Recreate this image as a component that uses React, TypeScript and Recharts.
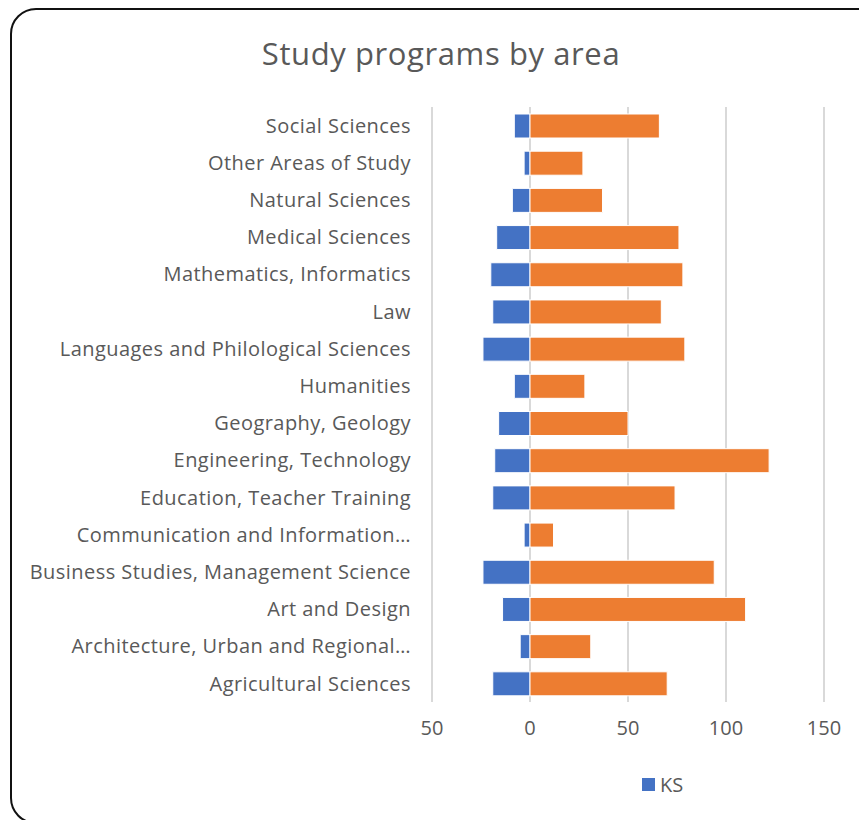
import { Bar, BarChart, CartesianGrid, Legend, XAxis, YAxis } from "recharts"

// Study areas, top to bottom as shown in the chart
const areas = [
  "Social Sciences",
  "Other Areas of Study",
  "Natural Sciences",
  "Medical Sciences",
  "Mathematics, Informatics",
  "Law",
  "Languages and Philological Sciences",
  "Humanities",
  "Geography, Geology",
  "Engineering, Technology",
  "Education, Teacher Training",
  "Communication and Information…",
  "Business Studies, Management Science",
  "Art and Design",
  "Architecture, Urban and Regional…",
  "Agricultural Sciences",
]

// KS is drawn to the left of zero
const ksPrograms = [-8, -3, -9, -17, -20, -19, -24, -8, -16, -18, -19, -3, -24, -14, -5, -19]
const otherPrograms = [66, 27, 37, 76, 78, 67, 79, 28, 50, 122, 74, 12, 94, 110, 31, 70]

const xTicks = [-50, 0, 50, 100, 150]

const data = areas.map((area, i) => ({ area, ks: ksPrograms[i], other: otherPrograms[i] }))

const font = "'Open Sans', 'Segoe UI', sans-serif"
const textColor = "#595959"

function KsLegend() {
  return (
    <div style={{ display: "flex", alignItems: "center", fontFamily: font, fontSize: 20, color: textColor }}>
      <span style={{ width: 13, height: 13, background: "#4472C4", marginRight: 5 }} />
      KS
    </div>
  )
}

export default function App() {
  return (
    <div style={{ position: "relative", width: 859, height: 820, overflow: "hidden", background: "#fff" }}>
      <style>{"body{margin:0;overflow:hidden}"}</style>
      <div
        style={{
          position: "absolute",
          left: 10,
          top: 8,
          width: 880,
          height: 812,
          border: "2px solid #111",
          borderRadius: 26,
        }}
      />
      <div
        style={{
          position: "absolute",
          left: 0,
          top: 32,
          width: 882,
          textAlign: "center",
          fontFamily: font,
          fontSize: 31,
          letterSpacing: 0.6,
          color: textColor,
        }}
      >
        Study programs by area
      </div>
      <div style={{ position: "absolute", left: 0, top: 0 }}>
        <BarChart
          width={859}
          height={820}
          data={data}
          layout="vertical"
          stackOffset="sign"
          barSize={24}
          margin={{ top: 107, right: 35, bottom: 88, left: 0 }}
        >
          <CartesianGrid horizontal={false} stroke="#d9d9d9" strokeWidth={2} />
          <XAxis
            type="number"
            domain={[-50, 150]}
            ticks={xTicks}
            tickFormatter={(v: number) => String(Math.abs(v))}
            axisLine={false}
            tickLine={false}
            tickSize={0}
            tickMargin={19}
            height={30}
            tick={{ fill: textColor, fontSize: 20, fontFamily: font }}
          />
          <YAxis
            type="category"
            dataKey="area"
            width={432}
            axisLine={false}
            tickLine={false}
            tickSize={0}
            tickMargin={21}
            interval={0}
            tick={{ fill: textColor, fontSize: 20, fontFamily: font, letterSpacing: 0.45 }}
          />
          <Legend
            layout="vertical"
            align="center"
            verticalAlign="middle"
            wrapperStyle={{ left: 642, top: 771, width: 80 }}
            content={() => <KsLegend />}
          />
          <Bar dataKey="ks" name="KS" stackId="a" fill="#4472C4" stroke="#fff" strokeWidth={1} isAnimationActive={false} />
          <Bar dataKey="other" stackId="a" fill="#ED7D31" stroke="#fff" strokeWidth={1} isAnimationActive={false} />
        </BarChart>
      </div>
    </div>
  )
}
